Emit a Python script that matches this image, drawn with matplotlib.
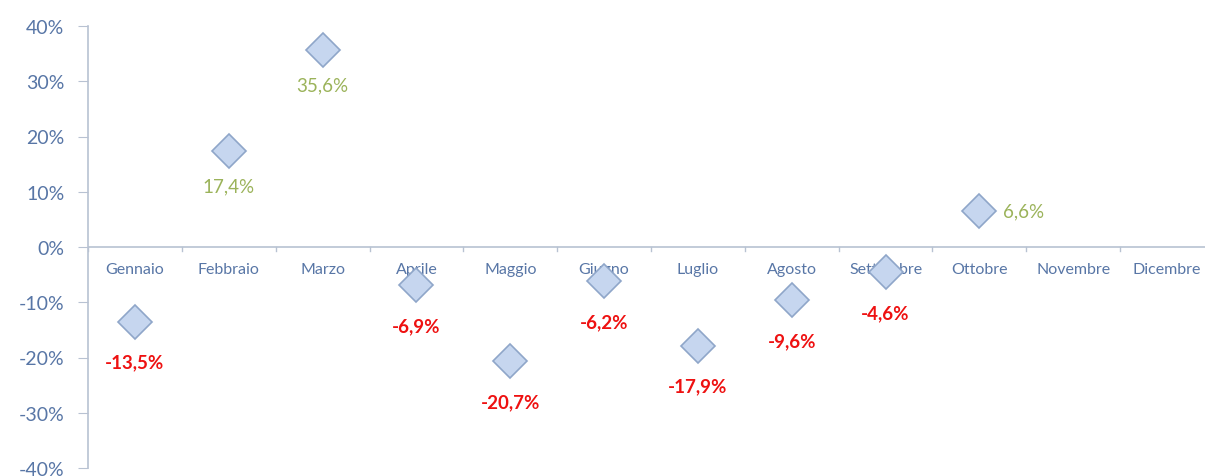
import matplotlib.pyplot as plt
import numpy as np

plt.rcParams["font.family"] = ["Lato", "DejaVu Sans"]

months = ["Gennaio", "Febbraio", "Marzo", "Aprile", "Maggio", "Giugno",
          "Luglio", "Agosto", "Settembre", "Ottobre", "Novembre", "Dicembre"]
values = [-13.5, 17.4, 35.6, -6.9, -20.7, -6.2, -17.9, -9.6, -4.6, 6.6,
          np.nan, np.nan]
label_texts = ["-13,5%", "17,4%", "35,6%", "-6,9%", "-20,7%", "-6,2%",
               "-17,9%", "-9,6%", "-4,6%", "6,6%", "", ""]
y_ticks = [-40, -30, -20, -10, 0, 10, 20, 30, 40]

axis_col = "#b8c2d2"
tick_text = "#5876a6"
green = "#9bb35a"
red = "#ee1111"

fig = plt.figure(figsize=(12.05, 4.77), dpi=100)
ax = fig.add_axes([88 / 1205, 8 / 477, 1126 / 1205, 442 / 477])

x = np.arange(len(months))
ax.plot(x, values, linestyle="none", marker="D", markersize=17,
        markerfacecolor="#c6d6ef", markeredgecolor="#8fa6c9",
        markeredgewidth=1.2, zorder=3)

for i, (v, t) in enumerate(zip(values, label_texts)):
    if np.isnan(v):
        continue
    if v >= 0:
        if i == 9:
            ax.annotate(t, (i, v), xytext=(17, 0), textcoords="offset points",
                        ha="left", va="center", color=green, fontsize=13.5)
        else:
            ax.annotate(t, (i, v), xytext=(0, -25), textcoords="offset points",
                        ha="center", va="center", color=green, fontsize=13.5)
    else:
        ax.annotate(t, (i, v), xytext=(0, -29), textcoords="offset points",
                    ha="center", va="center", color=red, fontsize=13.5,
                    fontweight="bold")

# category labels just below the zero line
for i, m in enumerate(months):
    ax.text(i, -3.9, m, ha="center", va="center", color=tick_text,
            fontsize=11.5, zorder=2)

ax.set_xlim(-0.5, 11.5)
ax.set_ylim(-40, 40)
ax.set_yticks(y_ticks)
ax.set_yticklabels([f"{t}%" for t in y_ticks], color=tick_text, fontsize=14)
ax.set_xticks([])

ax.axhline(0, color=axis_col, linewidth=1.2, zorder=1)
for b in np.arange(-0.5, 12, 1):
    ax.plot([b, b], [0, -0.8], color=axis_col, linewidth=1, zorder=1)

for side in ("top", "right", "bottom"):
    ax.spines[side].set_visible(False)
ax.spines["left"].set_color(axis_col)
ax.spines["left"].set_linewidth(1.2)
ax.tick_params(axis="y", length=7, color=axis_col, pad=10)

fig.savefig("out.png", dpi=100)
